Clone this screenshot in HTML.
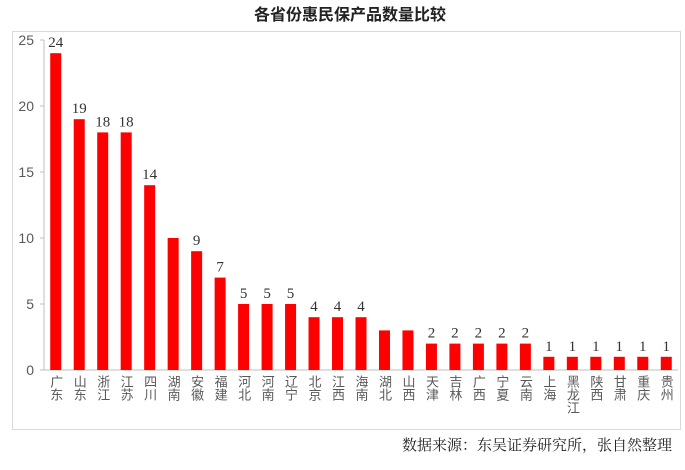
<!DOCTYPE html>
<html><head><meta charset="utf-8"><style>
body{margin:0;width:685px;height:465px;background:#fff;overflow:hidden;font-family:"Liberation Sans","Noto Sans CJK SC",sans-serif}
</style></head><body>
<svg width="685" height="465">
<text x="350" y="20" text-anchor="middle" font-size="16" font-weight="bold" fill="#222">各省份惠民保产品数量比较</text>
<rect x="12.5" y="31.5" width="668" height="398" fill="none" stroke="#d9d9d9"/>
<g id="g"></g>
<text x="672" y="450" text-anchor="end" font-size="15" fill="#222" font-family="Liberation Serif,'Noto Serif CJK SC',serif">数据来源：东吴证券研究所，张自然整理</text>
</svg>
<script>
const categories=["广东","山东","浙江","江苏","四川","湖南","安徽","福建","河北","河南","辽宁","北京","江西","海南","湖北","山西","天津","吉林","广西","宁夏","云南","上海","黑龙江","陕西","甘肃","重庆","贵州"];
const values=[24,19,18,18,14,10,9,7,5,5,5,4,4,4,3,3,2,2,2,2,2,1,1,1,1,1,1];
const showLabel=[1,1,1,1,1,0,1,1,1,1,1,1,1,1,0,0,1,1,1,1,1,1,1,1,1,1,1];
const yTicks=[0,5,10,15,20,25];
const NS="http://www.w3.org/2000/svg",g=document.getElementById('g');
const x0=44,x1=678,y0=370,y1=40,bw=(x1-x0)/categories.length;
const y=v=>y0-(v/25)*(y0-y1), xc=i=>x0+bw*(i+0.5);
function mk(t,a){const e=document.createElementNS(NS,t);for(const k in a)e.setAttribute(k,a[k]);g.appendChild(e);return e;}
yTicks.forEach(t=>{const e=mk('text',{x:34,y:y(t)+5,'text-anchor':'end','font-size':14,fill:'#595959'});e.textContent=t;


const l=mk('line',{x1:40,x2:44,y1:y(t),y2:y(t),stroke:'#bfbfbf'});

});
const ax=mk('line',{x1:x0,x2:x0,y1:y1,y2:y0,stroke:'#bfbfbf'});


const bx=mk('line',{x1:40,x2:x1,y1:y0,y2:y0,stroke:'#bfbfbf'});


values.forEach((v,i)=>{const c=xc(i);
const r=mk('rect',{x:c-5.5,y:y(v),width:11,height:y0-y(v),fill:'#ff0000'});


if(showLabel[i]){const t=mk('text',{x:c,y:y(v)-6,'text-anchor':'middle','font-size':15,fill:'#333','font-family':'Liberation Serif,serif'});t.textContent=v;

}
const cat=categories[i];
const lt=mk('text',{x:c,y:y0+5,'font-size':13,fill:'#595959','writing-mode':'tb','glyph-orientation-vertical':0});
lt.setAttribute('transform',`translate(0,0)`);
lt.setAttribute('x',c);lt.setAttribute('y',y0+5);
lt.setAttribute('style','writing-mode:vertical-rl;text-orientation:upright;letter-spacing:0px');
lt.setAttribute('text-anchor','start');
lt.textContent=cat;


});
</script>
</body></html>
